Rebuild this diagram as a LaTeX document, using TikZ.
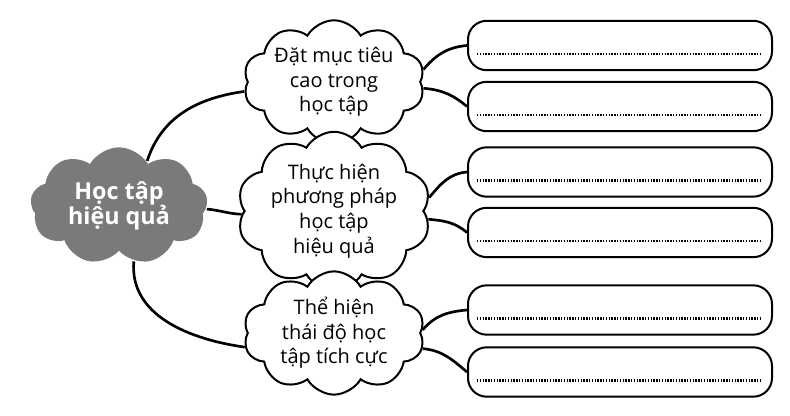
\documentclass[tikz,border=0pt]{standalone}
\usepackage{fontspec}
\setmainfont{Open Sans}
\usetikzlibrary{shapes.symbols,calc}

\tikzset{every picture/.style={line width=1.5pt}}
\tikzset{
	idea/.style={cloud, cloud puffs=10, cloud puff arc=120, cloud ignores aspect, draw, fill=white, align=center, inner sep=0pt, minimum width=136pt, minimum height=85pt, font=\fontsize{15}{18.5}\selectfont},
	hubcloud/.style={cloud, cloud puffs=9, cloud puff arc=120, cloud ignores aspect, fill={rgb, 255:red, 122; green, 122; blue, 122}, text=white, align=center, inner sep=0pt, minimum width=133pt, minimum height=88pt, font=\bfseries\fontsize{17.5}{19}\selectfont},
	answer/.style={draw, rounded corners=14pt, minimum width=228pt, minimum height=37pt, inner sep=0pt},
	branch/.style={line width=2pt},
	fillin/.style={line width=1.8pt, dash pattern=on 1.1pt off 1pt}
}

\begin{document}
\begin{tikzpicture}[x=0.75pt,y=0.75pt,yscale=-1,xscale=1]
	\useasboundingbox (0,0) rectangle (790,415);

	%Shape: Cloud [hub]
	\node[hubcloud] (hub) at (119,206) {Học tập\\hiệu quả};
	%Shape: Cloud [ideas]
	\node[idea] (goal) at (334,82) {Đặt mục tiêu\\cao trong\\học tập};
	\node[idea] (method) at (334,211) {Thực hiện\\phương pháp\\học tập\\hiệu quả};
	\node[idea] (attitude) at (334,333) {Thể hiện\\thái độ học\\tập tích cực};

	%Shape: Rounded Rectangles [answers]
	\node[answer] (a1) at (620,45.5) {};
	\node[answer] (a2) at (620,106.5) {};
	\node[answer] (a3) at (620,172) {};
	\node[answer] (a4) at (620,232.5) {};
	\node[answer] (a5) at (620,310) {};
	\node[answer] (a6) at (620,372) {};
	%Dotted Lines
	\foreach \b in {a1,a2,a3,a4,a5,a6}
		\draw[fillin] ($(\b.south west)+(10,-17)$) -- ($(\b.south east)+(-11,-17)$);

	%Curves [hub to ideas] (yscale=-1, so angles are mirrored)
	\draw[branch] (hub.58) to[out=-72,in=-188] (goal.186);
	\draw[branch] (hub.-2) to[out=5,in=-178] (method.182);
	\draw[branch] (hub.-75) to[out=95,in=-172] (attitude.189);

	%Curves [ideas to answers]
	\draw[branch] (goal.8) to[out=-50,in=-185] (a1.west);
	\draw[branch] (goal.-4) to[out=5,in=-140] (a2.west);
	\draw[branch] (method.8) to[out=-50,in=-185] (a3.west);
	\draw[branch] (method.-5) to[out=5,in=-140] (a4.west);
	\draw[branch] (attitude.2) to[out=-50,in=-185] (a5.west);
	\draw[branch] (attitude.-10) to[out=5,in=-140] (a6.west);

\end{tikzpicture}
\end{document}
